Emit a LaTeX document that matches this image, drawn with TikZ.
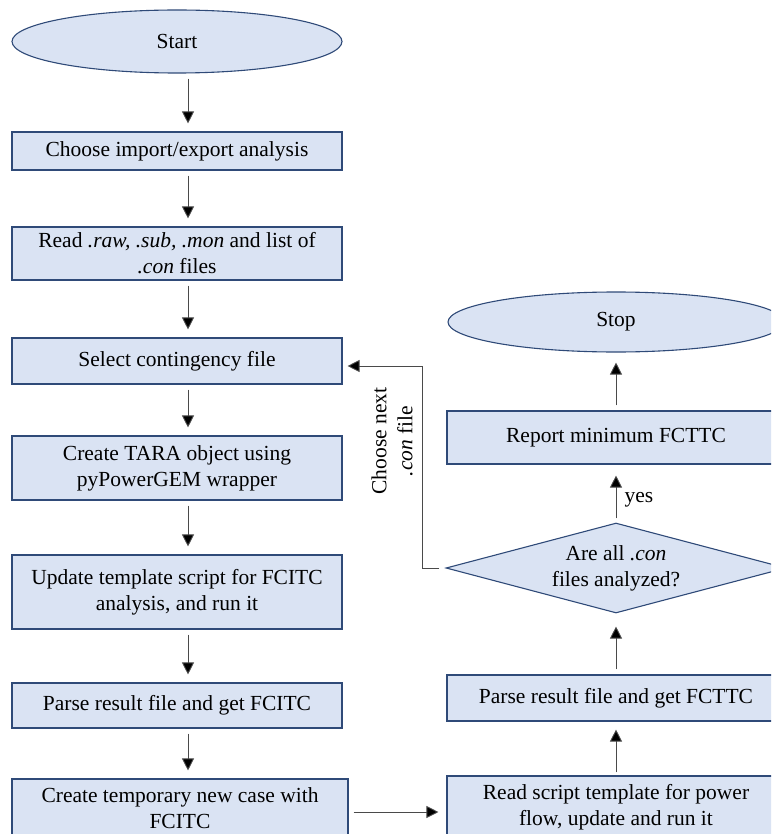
\documentclass[tikz,border=0pt]{standalone}
\usepackage{fontspec}
\setmainfont{Liberation Serif}
\usepackage{tikz}
\usetikzlibrary{
  arrows.meta,
  shapes.geometric,
  positioning,
  calc
}
\definecolor{fcFill}{HTML}{DAE3F3}
\definecolor{fcLine}{HTML}{2F4A78}
\definecolor{fcWire}{HTML}{4A4A4A}
\tikzset{
  fcnode/.style={
    draw=fcLine, fill=fcFill, line width=1.1pt, align=center, inner sep=0pt,
    font=\fontsize{21.5}{26}\selectfont
  },
  fcbox/.style={fcnode, rectangle, minimum width=330pt},
  fcterm/.style={fcnode, ellipse, minimum width=330pt, minimum height=63pt},
  fcdec/.style={fcnode, diamond, aspect=3.78, minimum width=340pt, minimum height=90pt},
  flow/.style={-{Triangle[length=12pt, width=12pt, fill=black]}, line width=0.9pt, fcWire,
    shorten <=5pt, shorten >=8pt},
  tag/.style={font=\fontsize{21.5}{26}\selectfont, align=center, inner sep=0pt}
}

\begin{document}
\begin{tikzpicture}[x=1pt, y=-1pt]
  \path[use as bounding box, clip] (0,0) rectangle (771,834);
  \coordinate (colL) at (188,0);

  % left column
  \node[fcterm] (start) at (177,41.5) {Start};
  \node[fcbox, minimum height=38pt] (imp) at (177,151) {Choose import/export analysis};
  \node[fcbox, minimum height=53pt] (rd) at (177,253.5) {Read \textit{.raw, .sub, .mon} and list of\\\textit{.con} files};
  \node[fcbox, minimum height=46pt] (sel) at (177,361) {Select contingency file};
  \node[fcbox, minimum height=64pt] (tara) at (177,468) {Create TARA object using\\pyPowerGEM wrapper};
  \node[fcbox, minimum height=74pt] (upd) at (177,592) {Update template script for FCITC\\analysis, and run it};
  \node[fcbox, minimum height=45pt] (pfc) at (177,705.5) {Parse result file and get FCITC};
  \node[fcbox, minimum width=336pt, minimum height=58pt] (tmp) at (180,808) {Create temporary new case with\\FCITC};

  % right column
  \node[fcterm, minimum width=336pt, minimum height=60pt] (stop) at (616,322) {Stop};
  \node[fcbox, minimum width=338pt, minimum height=53pt] (rep) at (616,437.5) {Report minimum FCTTC};
  \node[fcdec] (dec) at (616,568) {Are all \textit{.con}\\files analyzed?};
  \node[fcbox, minimum width=338pt, minimum height=46pt] (ptc) at (616,698) {Parse result file and get FCTTC};
  \node[fcbox, minimum width=338pt, minimum height=62pt] (rs) at (616,807) {Read script template for power\\flow, update and run it};

  % connectors
  \draw[flow] (start.south -| colL) -- (imp.north -| colL);
  \draw[flow] (imp.south -| colL) -- (rd.north -| colL);
  \draw[flow] (rd.south -| colL) -- (sel.north -| colL);
  \draw[flow] (sel.south -| colL) -- (tara.north -| colL);
  \draw[flow] (tara.south -| colL) -- (upd.north -| colL);
  \draw[flow] (upd.south -| colL) -- (pfc.north -| colL);
  \draw[flow] (pfc.south -| colL) -- (tmp.north -| colL);
  \draw[flow] ([yshift=-4pt]tmp.east) -- ([yshift=-4pt]tmp.east -| rs.west);
  \draw[flow, shorten <=3pt] (rs.north) -- (ptc.south);
  \draw[flow, shorten >=13pt] (ptc.north) -- (dec.south);
  \draw[flow, shorten <=4pt, shorten >=11pt] (dec.north) -- (rep.south);
  \draw[flow, shorten >=10pt] (rep.north) -- (stop.south);
  \draw[flow, shorten <=6pt, shorten >=5pt] (dec.west) -- ++(-23,0) |- ([yshift=-5pt]sel.east);

  % labels
  \node[tag] (yes) at (639,500) {yes};
  \node[tag, rotate=90] (nxt) at (392,441) {Choose next\\\textit{.con} file};
\end{tikzpicture}
\end{document}
